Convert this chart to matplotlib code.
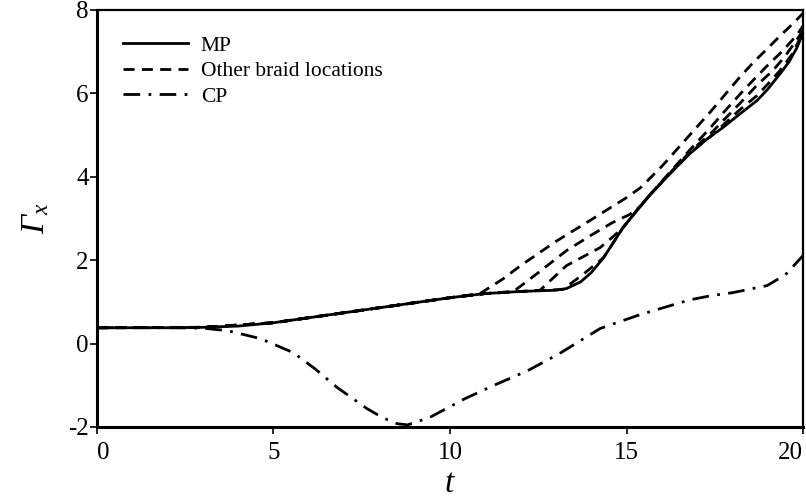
import matplotlib
matplotlib.use("Agg")
import matplotlib.pyplot as plt
import numpy as np

plt.rcParams['font.family'] = ['Liberation Serif', 'DejaVu Serif']
plt.rcParams['mathtext.fontset'] = 'custom'
plt.rcParams['mathtext.rm'] = 'Liberation Serif:italic'
plt.rcParams['mathtext.it'] = 'Liberation Serif:italic'
plt.rcParams['axes.unicode_minus'] = False

# MP curve (solid)
t_mp = [0, 1, 2, 3, 4, 5, 6, 7, 8, 9, 10, 11, 12, 13, 13.3, 13.7, 14.0, 14.35, 14.9, 15.3,
        15.65, 16.2, 16.8, 17.3, 17.73, 18.2, 18.7, 19.0, 19.35, 19.6, 19.83, 20.0]
g_mp = [0.38, 0.38, 0.38, 0.39, 0.42, 0.5, 0.62, 0.74, 0.86, 0.98, 1.1, 1.2, 1.25, 1.28, 1.32,
        1.48, 1.7, 2.06, 2.78, 3.2, 3.55, 4.05, 4.56, 4.92, 5.18, 5.5, 5.83, 6.1, 6.47, 6.75,
        7.1, 7.45]

# other braid locations (dashed)
t_b1 = [0, 3, 5, 7, 9, 10, 10.85, 11.5, 12, 13, 14, 15, 15.4, 16, 16.6, 17.0, 17.4, 17.8,
        18.2, 18.6, 19.0, 19.35, 19.7, 20.0]
g_b1 = [0.38, 0.39, 0.5, 0.74, 0.98, 1.1, 1.2, 1.55, 1.87, 2.45, 2.97, 3.5, 3.74, 4.25, 4.82,
        5.2, 5.58, 5.98, 6.38, 6.75, 7.08, 7.38, 7.66, 7.92]
t_b2 = [0, 3, 5, 7, 9, 10, 11, 11.8, 12.5, 13.3, 14, 14.6, 15.1, 15.4, 15.65, 16.2, 16.8,
        17.4, 17.83, 18.4, 18.97, 19.4, 19.83, 20.0]
g_b2 = [0.38, 0.39, 0.5, 0.74, 0.98, 1.1, 1.2, 1.25, 1.7, 2.23, 2.6, 2.9, 3.1, 3.3, 3.56,
        4.08, 4.65, 5.2, 5.62, 6.15, 6.65, 7.0, 7.4, 7.62]
t_b3 = [0, 3, 5, 7, 9, 10, 11, 12, 12.55, 13.3, 14.25, 14.6, 14.9, 15.3, 15.65, 16.2, 16.8,
        17.4, 18.2, 18.7, 19.15, 19.5, 20.0]
g_b3 = [0.38, 0.39, 0.5, 0.74, 0.98, 1.1, 1.2, 1.25, 1.28, 1.87, 2.3, 2.55, 2.78, 3.2, 3.55,
        4.06, 4.6, 5.05, 5.75, 6.2, 6.55, 6.9, 7.5]
t_b4 = [0, 3, 5, 7, 9, 10, 11, 12, 13.2, 13.8, 14.35, 14.9, 15.3, 15.65, 16.2, 16.8, 17.4,
        18.2, 18.7, 19.0, 19.35, 19.7, 20.0]
g_b4 = [0.38, 0.39, 0.5, 0.74, 0.98, 1.1, 1.2, 1.25, 1.3, 1.68, 2.06, 2.78, 3.2, 3.55, 4.05,
        4.57, 4.98, 5.6, 5.95, 6.22, 6.55, 6.95, 7.47]

# CP curve (dash-dot)
t_cp = [0, 1, 2, 3, 3.7, 4.63, 5.57, 6.2, 6.8, 7.65, 8.1, 8.5, 8.8, 9.43, 10.4, 11.3,
        12.2, 13.1, 14.25, 15.3, 16.0, 16.8, 17.4, 18.0, 18.98, 19.5, 20.0]
g_cp = [0.38, 0.38, 0.38, 0.37, 0.31, 0.12, -0.22, -0.62, -1.05, -1.56, -1.78, -1.92, -1.95,
        -1.77, -1.33, -0.98, -0.65, -0.24, 0.36, 0.67, 0.85, 1.05, 1.15, 1.22, 1.39, 1.65, 2.11]

fig = plt.figure(figsize=(8.06, 4.99), dpi=100)
ax = fig.add_axes([0.1203, 0.1443, 0.8760, 0.8357])

lw = 2.0
ax.plot(t_mp, g_mp, color='black', lw=lw, label='MP', zorder=3)
for i, (tb, gb) in enumerate([(t_b1, g_b1), (t_b2, g_b2), (t_b3, g_b3), (t_b4, g_b4)]):
    ax.plot(tb, gb, color='black', lw=lw, dashes=(4, 2.6),
            label='Other braid locations' if i == 0 else None)
ax.plot(t_cp, g_cp, color='black', lw=lw, dashes=(6, 3, 1, 3), label='CP')

ax.set_xlim(0, 20)
ax.set_ylim(-2, 8)
ax.set_xticks([0, 5, 10, 15, 20])
ax.set_yticks([-2, 0, 2, 4, 6, 8])
ax.tick_params(direction='out', length=5, width=1.2, labelsize=18)
ax.tick_params(axis='x', pad=6)
ax.tick_params(axis='y', pad=1)
xlabels = ax.get_xticklabels()
xlabels[0].set_ha('left')
xlabels[-1].set_ha('right')
for s in ['left', 'bottom']:
    ax.spines[s].set_linewidth(2.2)
for s in ['top', 'right']:
    ax.spines[s].set_linewidth(1.6)

ax.set_xlabel('$t$', fontsize=24, labelpad=3)
ax.set_ylabel(r'$\Gamma_x$', fontsize=24, labelpad=12)

ax.legend(loc='upper left', frameon=False, fontsize=15.5, handlelength=3.0,
          handletextpad=0.6, labelspacing=0.25, borderaxespad=0.5,
          bbox_to_anchor=(0.01, 0.985))

fig.savefig('out.png', dpi=100)
